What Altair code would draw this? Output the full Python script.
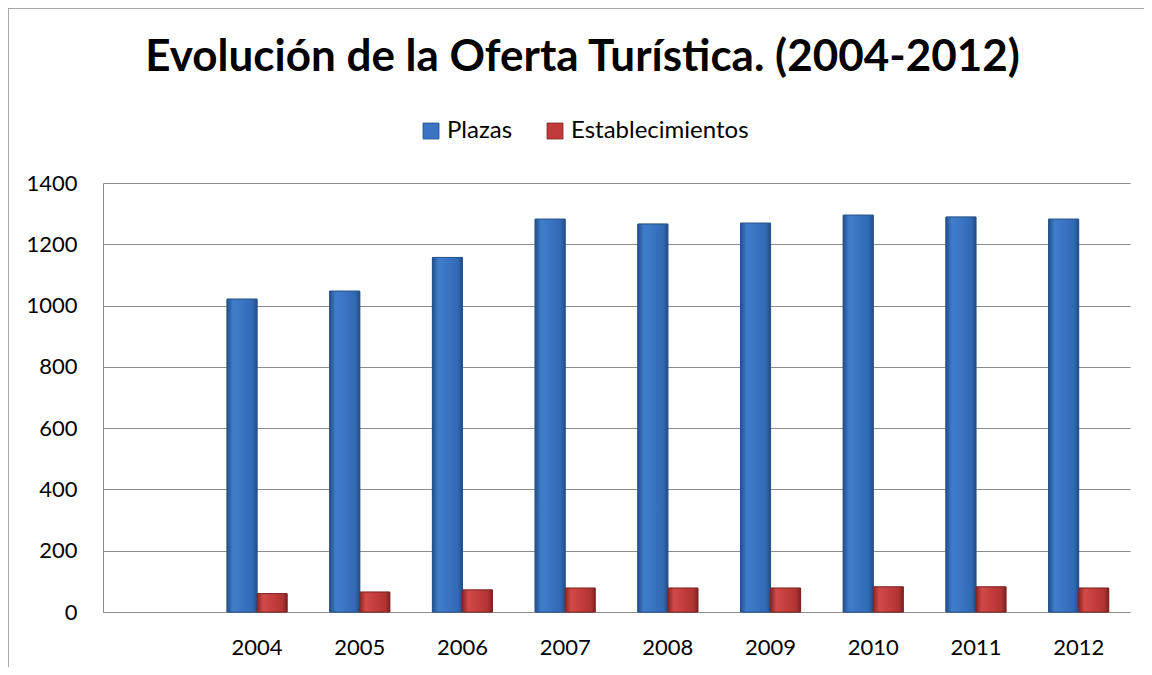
import altair as alt
import pandas as pd

years = ["2004", "2005", "2006", "2007", "2008", "2009", "2010", "2011", "2012"]
plazas = [1021, 1047, 1157, 1282, 1266, 1269, 1295, 1289, 1282]
establecimientos = [60, 65, 72, 78, 78, 78, 82, 82, 78]
series = ["Plazas", "Establecimientos"]
fill_colors = ["#3A74C2", "#C23B3A"]
edge_colors = ["#24508A", "#7E2322"]
blue_stops = ["#24508A", "#3F7DCB", "#3A75C3", "#3169B3", "#234C86"]
red_stops = ["#8A2626", "#D24A48", "#C53E3D", "#AF3433", "#7E2322"]
stop_offsets = [0.0, 0.2, 0.5, 0.85, 1.0]
x_domain = [" "] + years
y_ticks = [0, 200, 400, 600, 800, 1000, 1200, 1400]
title_text = "Evolución de la Oferta Turística. (2004-2012)"

rows = []
for yr, p, e in zip(years, plazas, establecimientos):
    rows.append({"year": yr, "series": series[0], "value": p})
    rows.append({"year": yr, "series": series[1], "value": e})
df = pd.DataFrame(rows)

FONT = "Lato"

x_enc = alt.X(
    "year:N",
    scale=alt.Scale(domain=x_domain, paddingInner=0.415, paddingOuter=0.2075),
    axis=alt.Axis(title=None, labelAngle=0, ticks=False, domainColor="#8C8C8C",
                  labelPadding=25, labelFontSize=22, labelColor="#000000", grid=False),
)
xoff_enc = alt.XOffset("series:N", sort=series, scale=alt.Scale(domain=series))
y_enc = alt.Y(
    "value:Q",
    scale=alt.Scale(domain=[0, 1400], nice=False),
    axis=alt.Axis(title=None, values=y_ticks, format="d", ticks=False, gridColor="#8C8C8C",
                  domainColor="#8C8C8C", labelPadding=26, labelFontSize=22,
                  labelColor="#000000"),
)

bars = alt.Chart(df).mark_bar(strokeWidth=0.8).encode(
    x=x_enc,
    xOffset=xoff_enc,
    y=y_enc,
    color=alt.Color(
        "series:N",
        sort=series,
        scale=alt.Scale(domain=series, range=fill_colors),
        legend=alt.Legend(title=None, orient="none", legendX=316, legendY=-64,
                          direction="horizontal", symbolType="square", symbolSize=256,
                          labelFontSize=24, columnPadding=30, labelOffset=4, labelLimit=400,
                          symbolStrokeWidth=0.8, labelColor="#000000"),
    ),
    stroke=alt.Stroke("series:N", sort=series,
                      scale=alt.Scale(domain=series, range=edge_colors), legend=None),
)


def gradient(colors):
    return alt.LinearGradient(
        gradient="linear", x1=0, y1=0, x2=1, y2=0,
        stops=[alt.GradientStop(offset=o, color=c) for o, c in zip(stop_offsets, colors)],
    )


overlays = []
for name, cols, edge in zip(series, [blue_stops, red_stops], edge_colors):
    overlays.append(
        alt.Chart(df).transform_filter(alt.datum.series == name)
        .mark_bar(fill=gradient(cols), stroke=edge, strokeWidth=0.8)
        .encode(x=x_enc, xOffset=xoff_enc, y=y_enc)
    )

one = pd.DataFrame({"k": [0]})
frame_left = alt.Chart(one).mark_rule(color="#8C8C8C", strokeWidth=1.5).encode(
    x=alt.value(-95), y=alt.value(-175), y2=alt.value(484))
frame_top = alt.Chart(one).mark_rule(color="#8C8C8C", strokeWidth=1.5).encode(
    x=alt.value(-95), x2=alt.value(1041), y=alt.value(-175))

chart = alt.layer(bars, *overlays, frame_left, frame_top).properties(
    width=1027,
    height=429,
    title=alt.Title(title_text, fontSize=44, font=FONT, fontWeight="bold", anchor="middle",
                    frame="group", dx=-34, offset=-73, color="#000000"),
    autosize=alt.AutoSizeParams(type="none"),
    padding={"left": 95, "top": 175, "right": 14, "bottom": 55},
).configure(font=FONT).configure_view(stroke=None).configure_axis(labelFont=FONT).configure_legend(labelFont=FONT)

chart.save("out.html", embed_options={"renderer": "svg", "actions": False})
